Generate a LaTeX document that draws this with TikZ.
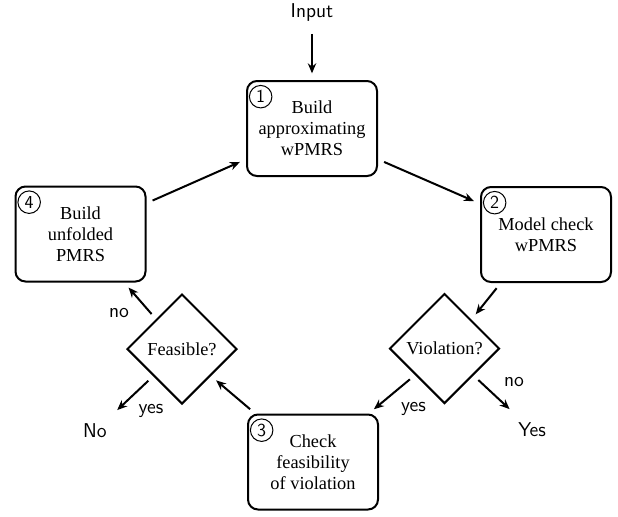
\documentclass[tikz,border=0pt]{standalone}
\usepackage{fontspec}
\setmainfont{Liberation Serif}
\usetikzlibrary{shapes.geometric,arrows.meta}

\begin{document}
\begin{tikzpicture}[x = 0.6pt, y = -0.6pt,
    every node/.style = {font = \fontsize{11}{12.6}\selectfont},
    stage/.style = {draw, rounded corners = 6pt, line width = 1.2pt, minimum width = 78pt, minimum height = 57pt, align = center, inner sep = 2pt},
    test/.style = {draw, diamond, line width = 1.2pt, minimum width = 66pt, minimum height = 66pt, inner sep = 0pt},
    num/.style = {draw, circle, line width = 0.6pt, minimum size = 13.5pt, inner sep = 0pt, font = \fontsize{11}{12}\sffamily},
    answer/.style = {font = \fontsize{12}{14}\sffamily},
    flow/.style = {-{Stealth[length = 6pt, width = 5pt]}, line width = 1.2pt, shorten > = 4pt, shorten < = 4pt}]
              \useasboundingbox (0, 0) rectangle (618, 516);
              % the four steps of the loop
              \node[stage] (build) at (312, 128.5) {Build\\approximating\\wPMRS};
              \node[stage] (check) at (546, 234.5) {Model check\\wPMRS};
              \node[stage] (feasib) at (313, 462) {Check\\feasibility\\of violation};
              \node[stage] (unfold) at (80.5, 234) {Build\\unfolded\\PMRS};
              \foreach \s/\n in {build/1, check/2, feasib/3, unfold/4}
              \node[num] (num\n) at ([xshift = 8.8pt, yshift = -10pt]\s.north west) {\n};
              % decisions
              \node[test] (viol) at (444.5, 348.5) {Violation?};
              \node[test] (feas) at (182, 349) {Feasible?};
              \node[answer] (input) at (312, 12.5) {Input};
              \node[answer] (yes) at (532, 430) {Yes};
              \node[answer] (no) at (95, 431) {No};
              % arrows
              \draw[flow] (input) -- (build);
              \draw[flow] (build.-25) -- (check.155);
              \draw[flow] (check.227) -- (viol.47);
              \draw[flow] (viol.222) -- (feasib.41);
              \draw[flow, shorten > = 7pt] (viol) -- (yes);
              \draw[flow] (feasib.140) -- (feas.-43);
              \draw[flow] (feas.131) -- (unfold.-48);
              \draw[flow, shorten > = 7pt] (feas) -- (no);
              \draw[flow] (unfold.25) -- (build.205);
              \node[answer] (vyes) at (413.5, 408.5) {yes};
              \node[answer] (vno) at (514, 382) {no};
              \node[answer] (fyes) at (151, 411) {yes};
              \node[answer] (fno) at (119, 313) {no};
            \end{tikzpicture}
\end{document}
